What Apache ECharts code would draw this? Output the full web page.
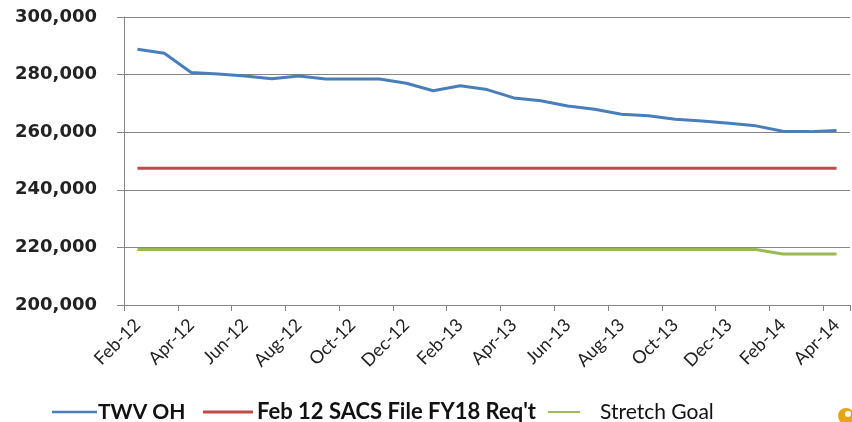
<!DOCTYPE html>
<html>
<head>
<meta charset="utf-8">
<script src="https://cdn.jsdelivr.net/npm/echarts@6/dist/echarts.min.js"></script>
<style>
html,body{margin:0;padding:0;background:#fff;}
#chart{width:852px;height:422px;}
</style>
</head>
<body>
<div id="chart"></div>
<script>
const categories = ["Feb-12","Mar-12","Apr-12","May-12","Jun-12","Jul-12","Aug-12","Sep-12","Oct-12","Nov-12","Dec-12","Jan-13",
  "Feb-13","Mar-13","Apr-13","May-13","Jun-13","Jul-13","Aug-13","Sep-13","Oct-13","Nov-13","Dec-13","Jan-14",
  "Feb-14","Mar-14","Apr-14"];
const twvOH = [288800,287400,280700,280200,279500,278600,279500,278500,278500,278500,277000,274400,
  276100,274800,271900,270900,269100,268000,266200,265700,264500,263900,263100,262200,
  260300,260200,260600];
const sacsReq = [247500,247500,247500,247500,247500,247500,247500,247500,247500,247500,247500,247500,
  247500,247500,247500,247500,247500,247500,247500,247500,247500,247500,247500,247500,
  247500,247500,247500];
const stretchGoal = [219300,219300,219300,219300,219300,219300,219300,219300,219300,219300,219300,219300,
  219300,219300,219300,219300,219300,219300,219300,219300,219300,219300,219300,219300,
  217700,217700,217700];
const yTicks = [200000,220000,240000,260000,280000,300000];
const seriesNames = ['TWV OH', "Feb 12 SACS File FY18 Req't", 'Stretch Goal'];
const colors = ['#4A7EBB', '#BE4B48', '#98B954'];

const chart = echarts.init(document.getElementById('chart'), null, {renderer:'canvas'});
const gray = '#868686';
function leg(i, left, w, weight, padLeft, size){
  return {
    left:left, top:401, padding:0, itemWidth:w, itemHeight:14, itemGap:0,
    icon:'path://M0,6 L50,6 L50,9 L0,9 Z',
    data:[seriesNames[i]],
    textStyle:{fontFamily:'Lato',fontSize:size,fontWeight:weight,color:'#111',lineHeight:22,padding:[0,0,0,padLeft]}
  };
}
chart.setOption({
  animation:false,
  backgroundColor:'#ffffff',
  grid:{left:124,right:2,top:17,bottom:117,containLabel:false},
  xAxis:{
    type:'category',
    data:categories,
    boundaryGap:true,
    axisLine:{lineStyle:{color:gray,width:1}},
    axisTick:{show:true,interval:1,length:6,lineStyle:{color:gray}},
    axisLabel:{interval:1,rotate:45,margin:17,color:'#222',fontFamily:'Lato',fontSize:18}
  },
  yAxis:{
    type:'value',
    min:yTicks[0],max:yTicks[yTicks.length-1],interval:20000,
    axisLine:{show:true,lineStyle:{color:gray,width:1}},
    axisTick:{show:true,length:7,lineStyle:{color:gray}},
    splitLine:{show:true,lineStyle:{color:gray,width:1}},
    axisLabel:{margin:27,color:'#222',fontFamily:'DejaVu Sans',fontWeight:'bold',fontSize:18,
      formatter:v=>v.toLocaleString('en-US')}
  },
  legend:[
    leg(0, 52, 45, 'bold', -4, 21),
    leg(1, 203, 50, 'bold', -1, 22),
    leg(2, 548, 32, 'normal', 15, 21)
  ],
  series:[
    {name:seriesNames[0],type:'line',data:twvOH,symbol:'none',lineStyle:{color:colors[0],width:3},itemStyle:{color:colors[0]}},
    {name:seriesNames[1],type:'line',data:sacsReq,symbol:'none',lineStyle:{color:colors[1],width:3},itemStyle:{color:colors[1]}},
    {name:seriesNames[2],type:'line',data:stretchGoal,symbol:'none',lineStyle:{color:colors[2],width:3},itemStyle:{color:colors[2]}}
  ],
  graphic:[
    {type:'circle',shape:{cx:846,cy:416,r:8},style:{fill:'#E8A317'}},
    {type:'circle',shape:{cx:848,cy:414,r:3},style:{fill:'#fff'}}
  ]
});
</script>
</body>
</html>
